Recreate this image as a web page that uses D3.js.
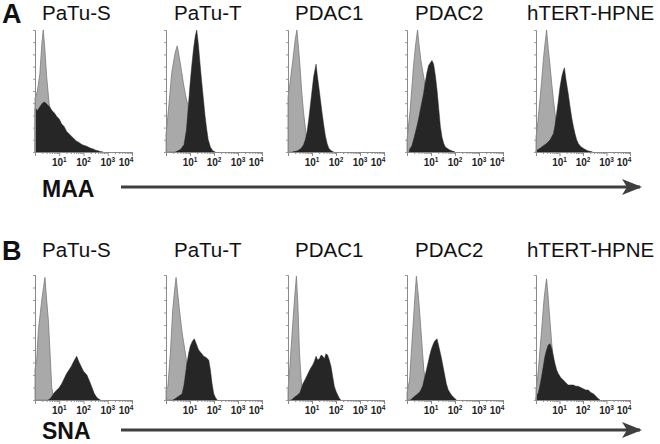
<!DOCTYPE html>
<html><head><meta charset="utf-8">
<script src="https://cdn.jsdelivr.net/npm/d3@7"></script>
<style>body{margin:0;background:#fff}svg{display:block}</style>
</head><body>
<svg id="c" width="660" height="444"></svg>
<script>
// ---- data ----
const cellLines = ["PaTu-S", "PaTu-T", "PDAC1", "PDAC2", "hTERT-HPNE"];
const lectins = ["MAA", "SNA"];
const panelLetters = ["A", "B"];
const tickExponents = [1, 2, 3, 4];
// histogram points: [log10 fluorescence, % of max count]
// MAA (row A): control (gray) and lectin (black)
const maaControl = [
  [[0,44],[0.1,50],[0.2,64],[0.28,88],[0.34,100],[0.4,86],[0.48,62],[0.58,40],[0.7,26],[0.85,14],[1.0,7],[1.2,2],[1.4,0]],
  [[0,14],[0.1,34],[0.24,65],[0.375,81],[0.47,87],[0.55,78],[0.65,66],[0.72,57],[0.82,46],[0.93,37],[1.05,25],[1.2,14],[1.4,6],[1.6,2],[1.75,0]],
  [[0,45],[0.08,56],[0.2,75],[0.3,92],[0.37,100],[0.44,85],[0.5,70],[0.57,50],[0.64,34],[0.72,20],[0.79,10],[0.86,5],[0.93,2],[1.05,0]],
  [[0,10],[0.13,34],[0.27,70],[0.36,88],[0.44,100],[0.5,88],[0.58,75],[0.64,68],[0.69,62],[0.8,50],[0.9,35],[1.0,20],[1.1,8],[1.2,0]],
  [[0,12],[0.08,25],[0.17,43],[0.24,58],[0.31,75],[0.38,88],[0.45,100],[0.52,85],[0.6,70],[0.67,56],[0.74,43],[0.85,25],[0.95,14],[1.1,5],[1.3,0]]
];
const maaLectin = [
  [[0,36],[0.1,34],[0.2,37],[0.3,40],[0.4,41],[0.5,39],[0.6,37],[0.7,34],[0.8,32],[0.9,29],[1.0,27],[1.1,23],[1.2,21],[1.3,17],[1.4,15],[1.5,13],[1.6,11],[1.7,9],[1.8,8],[1.9,6.5],[2.0,5.5],[2.1,5],[2.2,4],[2.3,3],[2.4,2.5],[2.5,1.5],[2.6,1],[2.7,0.3],[2.8,0]],
  [[0.4,0],[0.6,2],[0.75,6],[0.85,18],[0.93,37],[1.0,55],[1.07,70],[1.15,85],[1.22,95],[1.28,100],[1.35,88],[1.42,72],[1.49,57],[1.56,43],[1.63,29],[1.7,18],[1.76,10],[1.85,4],[1.95,1],[2.05,0]],
  [[0.2,0],[0.4,1],[0.55,3],[0.65,6],[0.72,10],[0.79,16],[0.86,26],[0.93,38],[1.0,50],[1.07,62],[1.13,68],[1.17,72],[1.22,63],[1.28,54],[1.35,43],[1.42,32],[1.49,22],[1.56,13],[1.63,7],[1.7,3],[1.8,1],[1.9,0]],
  [[0.1,2],[0.2,5],[0.3,12],[0.4,20],[0.48,27],[0.55,34],[0.62,41],[0.69,48],[0.76,57],[0.83,65],[0.9,71],[0.97,73],[1.04,75],[1.11,72],[1.18,63],[1.25,51],[1.32,36],[1.39,21],[1.46,12],[1.53,7],[1.6,4],[1.67,3],[1.8,1.5],[2.0,0]],
  [[0,1],[0.17,3],[0.3,5],[0.45,7],[0.6,10],[0.74,15],[0.81,22],[0.88,32],[0.95,42],[1.02,53],[1.1,62],[1.17,67],[1.21,69],[1.27,60],[1.37,48],[1.45,37],[1.52,28],[1.59,21],[1.66,15],[1.73,10],[1.8,7],[1.9,4.5],[2.01,3],[2.1,2],[2.2,1],[2.4,0]]
];
// SNA (row B)
const snaControl = [
  [[0,25],[0.07,32],[0.14,56],[0.21,68],[0.28,80],[0.35,90],[0.41,98],[0.48,80],[0.55,64],[0.62,38],[0.69,10],[0.76,3],[0.85,0]],
  [[0,8],[0.08,11],[0.18,37],[0.28,72],[0.36,88],[0.42,98],[0.49,85],[0.56,72],[0.67,54],[0.81,37],[0.94,19],[1.05,8],[1.15,3],[1.3,0]],
  [[0,8],[0.07,24],[0.18,56],[0.28,83],[0.35,99],[0.41,77],[0.48,37],[0.55,16],[0.62,4],[0.7,0]],
  [[0,6],[0.11,16],[0.18,38],[0.25,59],[0.32,80],[0.39,99],[0.45,88],[0.5,77],[0.6,51],[0.7,24],[0.8,12],[0.9,6],[1.0,2],[1.1,0]],
  [[0,8],[0.05,14],[0.1,24],[0.17,40],[0.24,56],[0.34,80],[0.4,90],[0.45,97],[0.51,84],[0.57,69],[0.67,45],[0.75,30],[0.85,18],[1.0,8],[1.2,2],[1.4,0]]
];
const snaLectin = [
  [[0.55,0],[0.62,1],[0.7,3],[0.8,6],[0.9,8],[1.0,10],[1.1,13],[1.2,17],[1.3,21],[1.4,24],[1.5,27],[1.6,31],[1.72,35],[1.8,31],[1.9,27],[2.0,23],[2.14,20],[2.25,15],[2.35,10],[2.45,5],[2.55,2],[2.65,0.5],[2.7,0]],
  [[0.3,0],[0.45,2],[0.6,4],[0.67,5],[0.75,12],[0.87,29],[0.94,37],[1.01,43],[1.1,47],[1.18,49],[1.26,45],[1.36,40],[1.45,38],[1.57,35],[1.67,34],[1.78,32],[1.85,24],[1.92,13],[1.99,5],[2.06,2],[2.13,0]],
  [[0.15,0],[0.25,2],[0.4,4],[0.5,6],[0.62,13],[0.73,17],[0.83,21],[0.93,25],[1.03,28],[1.1,31],[1.17,35],[1.24,32],[1.31,33],[1.38,36],[1.45,35],[1.52,33],[1.58,37],[1.65,36],[1.72,32],[1.79,27],[1.86,19],[1.93,11],[2.0,7],[2.07,4],[2.15,1],[2.2,0]],
  [[0.15,0],[0.25,2],[0.45,5],[0.55,7],[0.65,11],[0.76,20],[0.87,29],[0.95,36],[1.02,41],[1.1,45],[1.15,47],[1.25,49],[1.3,45],[1.36,40],[1.43,34],[1.5,27],[1.57,20],[1.64,13],[1.72,8],[1.85,4],[1.95,2],[2.06,0]],
  [[0,2],[0.05,4],[0.1,6],[0.17,12],[0.24,19],[0.31,27],[0.38,35],[0.45,40],[0.52,44],[0.6,45],[0.67,41],[0.74,35],[0.81,29],[0.88,24],[0.95,21],[1.05,18],[1.16,16],[1.26,14],[1.37,12],[1.48,12],[1.59,12],[1.7,11],[1.8,11],[1.9,10],[2.01,9],[2.12,8],[2.23,8],[2.33,6],[2.44,5],[2.55,3],[2.65,1],[2.72,0]]
];

// ---- layout ----
const rows = [
  {control: maaControl, lectin: maaLectin, top: 30, base: 152, titleY: 20, letterY: 23, labelY: 197, arrowY: 187},
  {control: snaControl, lectin: snaLectin, top: 275, base: 400, titleY: 257, letterY: 260, labelY: 439, arrowY: 430}
];
const panelX = [[35,132],[166,262],[288,384],[407,503],[536,630]];
const titleX = [42, 174, 295, 415, 527];
const FONT = "'Liberation Sans', Arial, sans-serif";

const svg = d3.select("#c");
const defs = svg.append("defs");
defs.append("marker").attr("id","ah").attr("viewBox","0 0 20 16")
  .attr("refX",18).attr("refY",8).attr("markerWidth",20).attr("markerHeight",16)
  .attr("markerUnits","userSpaceOnUse").attr("orient","auto")
  .append("path").attr("d","M0,0 L20,8 L0,16 L5,8 Z").attr("fill","#3f3f3f");

rows.forEach((row, r) => {
  svg.append("text").text(panelLetters[r]).attr("x", 2).attr("y", row.letterY)
    .attr("font-family", FONT).attr("font-weight", "bold").attr("font-size", 27).attr("fill", "#111");
  svg.append("text").text(lectins[r]).attr("x", 42).attr("y", row.labelY)
    .attr("font-family", FONT).attr("font-weight", "bold").attr("font-size", 23).attr("fill", "#111");
  svg.append("line").attr("x1", 121).attr("x2", 640).attr("y1", row.arrowY).attr("y2", row.arrowY)
    .attr("stroke", "#3f3f3f").attr("stroke-width", 3).attr("marker-end", "url(#ah)");

  cellLines.forEach((name, i) => {
    const [x0, x1] = panelX[i];
    const x = d3.scaleLog().domain([1, 1e4]).range([x0, x1]);
    const y = d3.scaleLinear().domain([0, 100]).range([row.base, row.top]);
    const g = svg.append("g");
    g.append("text").text(name).attr("x", titleX[i]).attr("y", row.titleY)
      .attr("font-family", FONT).attr("font-size", 20.5).attr("fill", "#111");

    const area = d3.area().x(d => x(Math.pow(10, d[0]))).y0(row.base).y1(d => y(d[1]));
    g.append("path").datum(row.control[i]).attr("d", area)
      .attr("fill", "#a9a9a9").attr("stroke", "#7a7a7a").attr("stroke-width", 0.8);
    g.append("path").datum(row.lectin[i]).attr("d", area)
      .attr("fill", "#262626").attr("stroke", "#262626").attr("stroke-width", 0.5);

    // y axis
    const ya = g.append("g").attr("transform", `translate(${x0},0)`)
      .call(d3.axisLeft(y).ticks(14).tickSize(2).tickFormat(""));
    ya.select(".domain").attr("stroke", "#8a8a8a");
    ya.selectAll(".tick line").attr("stroke", "#9a9a9a");

    // x axis with log minor ticks
    const minor = [];
    for (let e = 0; e < 4; e++) for (let k = 1; k < 10; k++) minor.push(k * Math.pow(10, e));
    minor.push(1e4);
    const xa = g.append("g").attr("transform", `translate(0,${row.base})`)
      .call(d3.axisBottom(x).tickValues(minor).tickSize(2).tickFormat(""));
    xa.select(".domain").attr("stroke", "#8a8a8a");
    xa.selectAll(".tick line").attr("stroke", "#8a8a8a")
      .attr("y2", d => Math.abs(Math.log10(d) % 1) < 1e-9 ? 4 : 2);

    tickExponents.forEach((e, k) => {
      const t = g.append("text").attr("x", x(Math.pow(10, e)) + (k === 3 ? -6 : 0)).attr("y", row.base + 14)
        .attr("text-anchor", "middle").attr("font-family", FONT).attr("font-weight", "bold")
        .attr("font-size", 10).attr("fill", "#222");
      t.append("tspan").text("10");
      t.append("tspan").text(e).attr("dy", -4).attr("font-size", 6.5);
    });
  });
});
</script>
</body></html>
